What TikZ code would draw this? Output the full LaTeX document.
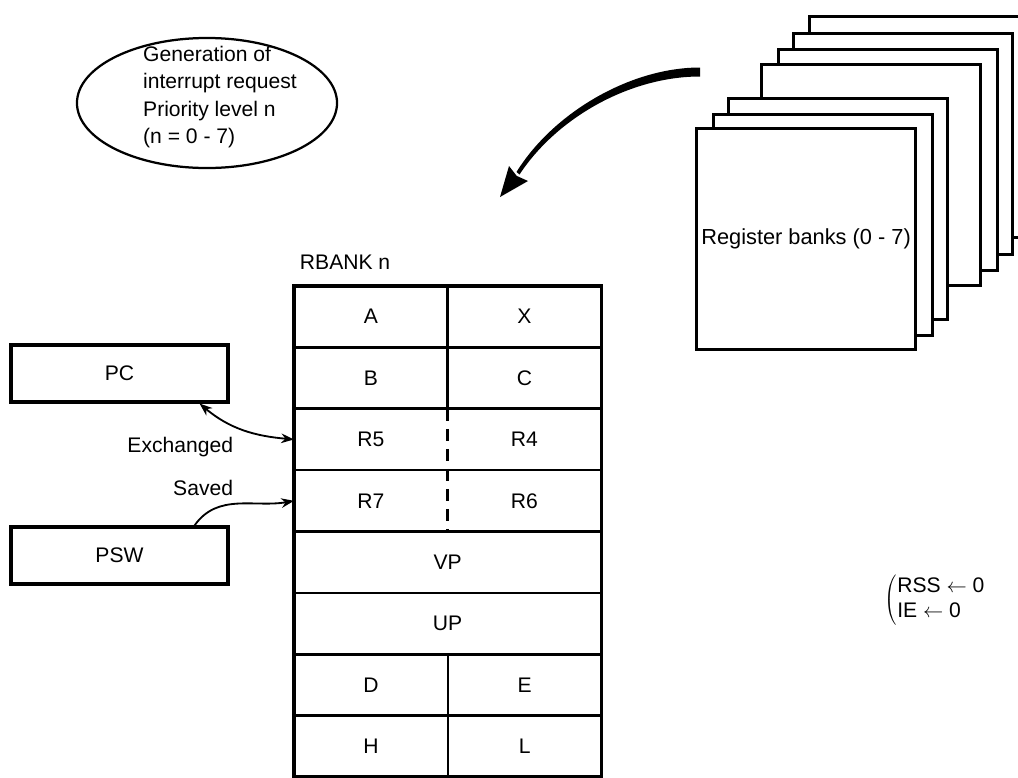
\documentclass[tikz,border=0pt]{standalone}
\usepackage{fontspec}
\setmainfont{Liberation Sans}
\usepackage{tikz}
\usetikzlibrary{shapes.geometric,arrows.meta,positioning}
\newcommand{\regfont}{\fontsize{15}{19.5}\selectfont}

\begin{document}
\begin{tikzpicture}[
  x=0.025cm, y=-0.025cm, font=\regfont,
  bank/.style={draw, fill=white, line width=2.2pt, minimum width=5.475cm,
               minimum height=5.525cm, anchor=north west},
  reg/.style={draw, line width=2.2pt, minimum width=5.425cm, minimum height=1.425cm},
  cell/.style={minimum width=3.825cm, minimum height=1.52cm, inner sep=0pt},
  wcell/.style={cell, minimum width=7.65cm},
  grid/.style={line width=1.8pt},
  frame/.style={line width=2.6pt},
  arr/.style={-{Stealth[length=3.2mm,width=2.4mm]}, line width=1.3pt},
  dbl/.style={{Stealth[length=3.2mm,width=2.4mm]}-{Stealth[length=3.2mm,width=2.4mm]}, line width=1.3pt},
  lbl/.style={anchor=east}
]
  \clip (0,0) rectangle (1018,777);

  % interrupt request
  \node[ellipse, draw, line width=1.6pt, minimum width=6.5cm, minimum height=3.25cm] (irq) at (207,103) {};
  \node[align=left] (irqtxt) at (220,97) {Generation of\\interrupt request\\Priority level n\\(n = 0 - 7)};

  % register banks, back to front
  \node[bank] (bank7) at (808,15) {};
  \node[bank] (bank6) at (792,32) {};
  \node[bank] (bank5) at (777,48) {};
  \node[bank] (bank4) at (760,63) {};
  \node[bank] (bank3) at (727,97) {};
  \node[bank] (bank2) at (712,113) {};
  \node[bank, font=\fontsize{15.5}{19.5}\selectfont] (bank1) at (695,127) {Register banks (0 - 7)};

  % bank selection arrow
  \fill (700,67.5) .. controls (630,67.5) and (553,113) .. (516.5,172)
        -- (519.5,174.5) .. controls (557,117.5) and (630,76.5) .. (700,76.5) -- cycle;
  \fill (500,197) -- (509,166) -- (516.7,175.9) -- (528,181) -- cycle;

  % RBANK n
  \node[anchor=west] (rbank) at (295,262) {RBANK n};
  \node[cell, anchor=north west] (a) at (294,286) {A};
  \node[cell, right=0pt of a] (x) {X};
  \node[cell, below=0pt of a] (b) {B};
  \node[cell, right=0pt of b] (c) {C};
  \node[cell, below=0pt of b] (r5) {R5};
  \node[cell, right=0pt of r5] (r4) {R4};
  \node[cell, below=0pt of r5] (r7) {R7};
  \node[cell, right=0pt of r7] (r6) {R6};
  \node[wcell, below=0pt of r7.south east] (vp) {VP};
  \node[wcell, below=0pt of vp] (up) {UP};
  \node[cell, below right=0pt and 0pt of up.south west] (d) {D};
  \node[cell, right=0pt of d] (e) {E};
  \node[cell, below=0pt of d] (h) {H};
  \node[cell, right=0pt of h] (l) {L};

  \draw[frame] (a.north west) rectangle (l.south east);
  \draw[grid] (a.south west) -- (a.south west -| x.east);
  \draw[grid] (b.south west) -- (b.south west -| x.east);
  \draw[grid] (r5.south west) -- (r5.south west -| x.east);
  \draw[grid] (r7.south west) -- (r7.south west -| x.east);
  \draw[grid] (vp.south west) -- (vp.south east);
  \draw[grid] (up.south west) -- (up.south east);
  \draw[grid] (d.south west) -- (d.south west -| x.east);
  \draw[grid] (a.north east) -- (b.south east);
  \draw[grid, dash pattern=on 0.3cm off 0.2cm] (r5.north east) -- (r7.south east);
  \draw[grid] (d.north east) -- (h.south east);

  % PC and PSW
  \node[reg] (pc) at (119.5,373.5) {PC};
  \node[reg] (psw) at (119.5,555.5) {PSW};
  \draw[dbl] ([xshift=-0.75cm]pc.south east) to[out=-40, in=175] (r5.west);
  \draw[arr] ([xshift=-0.875cm]psw.north east) to[out=55, in=190] (r7.west);
  \node[lbl] (exch) at (238,447) {Exchanged};
  \node[lbl] (saved) at (238,488) {Saved};

  % flags
  \node[anchor=west, font=\fontsize{15}{17.5}\selectfont] (flags) at (880,600)
    {$\left(\vcenter{\hbox{\begin{tabular}{@{}l@{}}RSS $\leftarrow$ 0\\IE $\leftarrow$ 0\end{tabular}}}\right.$};
\end{tikzpicture}
\end{document}
